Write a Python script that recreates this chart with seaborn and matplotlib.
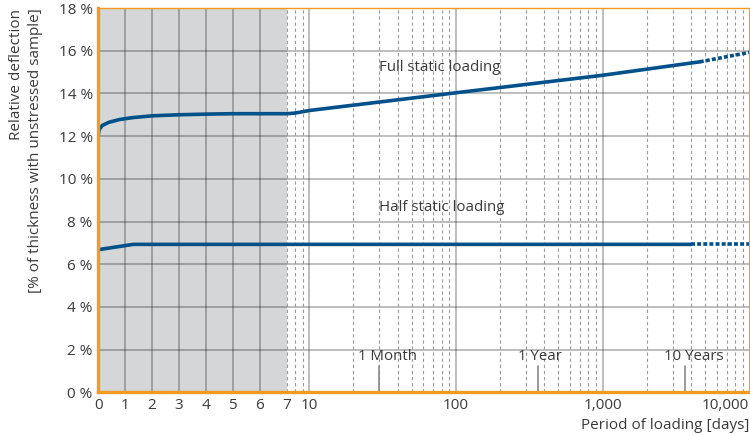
import numpy as np
import pandas as pd
import matplotlib
matplotlib.use('Agg')
import matplotlib.pyplot as plt
import seaborn as sns

# data
full_days = [0, 0.03, 0.15, 0.4, 0.8, 1.3, 2, 3, 4, 5, 6, 7, 8, 10, 100, 1000, 4600]
full_pct = [12.0, 12.3, 12.5, 12.65, 12.78, 12.87, 12.95, 13.0, 13.03, 13.05, 13.05,
            13.05, 13.08, 13.2, 14.03, 14.85, 15.48]
full_proj_days = [4600, 10000]
full_proj_pct = [15.48, 15.92]

half_days = [0, 1.3, 4000]
half_pct = [6.68, 6.93, 6.93]
half_proj_days = [4000, 10000]
half_proj_pct = [6.93, 6.93]

marker_days = [30, 365, 3650]
marker_labels = ['1 Month', '1 Year', '10 Years']

xtick_vals = [0, 1, 2, 3, 4, 5, 6, 7, 10, 100, 1000, 10000]
xtick_labels = ['0', '1', '2', '3', '4', '5', '6', '7', '10', '100', '1,000', '10,000']
ytick_vals = list(range(0, 19, 2))

BLUE = '#005089'
ORANGE = '#F39A22'
TEXT = '#3a3a3a'
K = 5.45  # linear days 0-7, then log decades


def fwd(x):
    x = np.asarray(x, dtype=float)
    return np.where(x <= 7, x, 7 + K * np.log10(np.maximum(x, 7) / 7))


def inv(y):
    y = np.asarray(y, dtype=float)
    return np.where(y <= 7, y, 7 * 10 ** ((np.maximum(y, 7) - 7) / K))


sns.set_style('white')
plt.rcParams['font.family'] = ['Open Sans', 'DejaVu Sans']

fig = plt.figure(figsize=(7.5, 4.36), dpi=100)
ax = fig.add_axes([0.131, 0.1002, 0.868, 0.8814])
ax.set_xscale('function', functions=(fwd, inv))
ax.set_xlim(0, 10000)
ax.set_ylim(0, 18)

# shaded short-term region
ax.axvspan(0, 7, color='#D5D6D8', zorder=0, lw=0)

# grid
grid_c = (0, 0, 0, 0.3)
for v in ytick_vals[1:-1]:
    ax.axhline(v, color=grid_c, lw=1.2, zorder=1)
for v in [1, 2, 3, 4, 5, 6, 10, 100, 1000]:
    ax.axvline(v, color=grid_c, lw=1.2, zorder=1)
dashed = [7, 8, 9] + [d * m for m in (10, 100, 1000) for d in range(2, 10)]
for v in dashed:
    ax.axvline(v, color='#9a9a9a', lw=0.8, ls=(0, (3, 2.5)), zorder=1)

# curves
df_full = pd.DataFrame({'days': full_days, 'pct': full_pct})
df_half = pd.DataFrame({'days': half_days, 'pct': half_pct})
for df in (df_full, df_half):
    sns.lineplot(data=df, x='days', y='pct', ax=ax, color=BLUE, lw=2.6,
                 sort=False, estimator=None, zorder=3)
for d, p in ((full_proj_days, full_proj_pct), (half_proj_days, half_proj_pct)):
    sns.lineplot(x=d, y=p, ax=ax, color=BLUE, lw=2.6, sort=False, estimator=None,
                 linestyle=(0, (1.1, 0.6)), dash_capstyle='butt', zorder=3)

ax.text(30, 15.21, 'Full static loading', fontsize=10.8, color=TEXT, va='center', ha='left')
ax.text(30, 8.67, 'Half static loading', fontsize=10.8, color=TEXT, va='center', ha='left')

# time markers
for d, lab in zip(marker_days, marker_labels):
    ax.plot([d, d], [0, 1.23], color='#8a8a8a', lw=1.2, zorder=2)
    ax.annotate(lab, xy=(d, 1.66), xytext=(-15, 0), textcoords='offset points',
                fontsize=10.8, color=TEXT, ha='left', va='center', zorder=2)

ax.set_xticks(xtick_vals)
ax.set_xticklabels(xtick_labels)
ax.xaxis.get_ticklabels()[-1].set_ha('right')
ax.set_yticks(ytick_vals)
ax.set_yticklabels([f'{v} %' for v in ytick_vals])
ax.tick_params(length=0, labelsize=11, colors=TEXT, pad=4)
ax.set_xlabel('')
ax.set_ylabel('')

for side, lw in (('left', 2.4), ('bottom', 2.4), ('top', 1.0), ('right', 0.8)):
    ax.spines[side].set_visible(True)
    ax.spines[side].set_color(ORANGE)
    ax.spines[side].set_linewidth(lw)
    ax.spines[side].set_zorder(4)

fig.text(0.999, 0.025, 'Period of loading [days]', fontsize=11, color=TEXT,
         ha='right', va='center')
fig.text(0.035, 0.98, 'Relative deflection\n[% of thickness with unstressed sample]',
         fontsize=11, color=TEXT, rotation=90, ha='center', va='top',
         multialignment='right', linespacing=1.4)

fig.savefig('out.png', dpi=100)
